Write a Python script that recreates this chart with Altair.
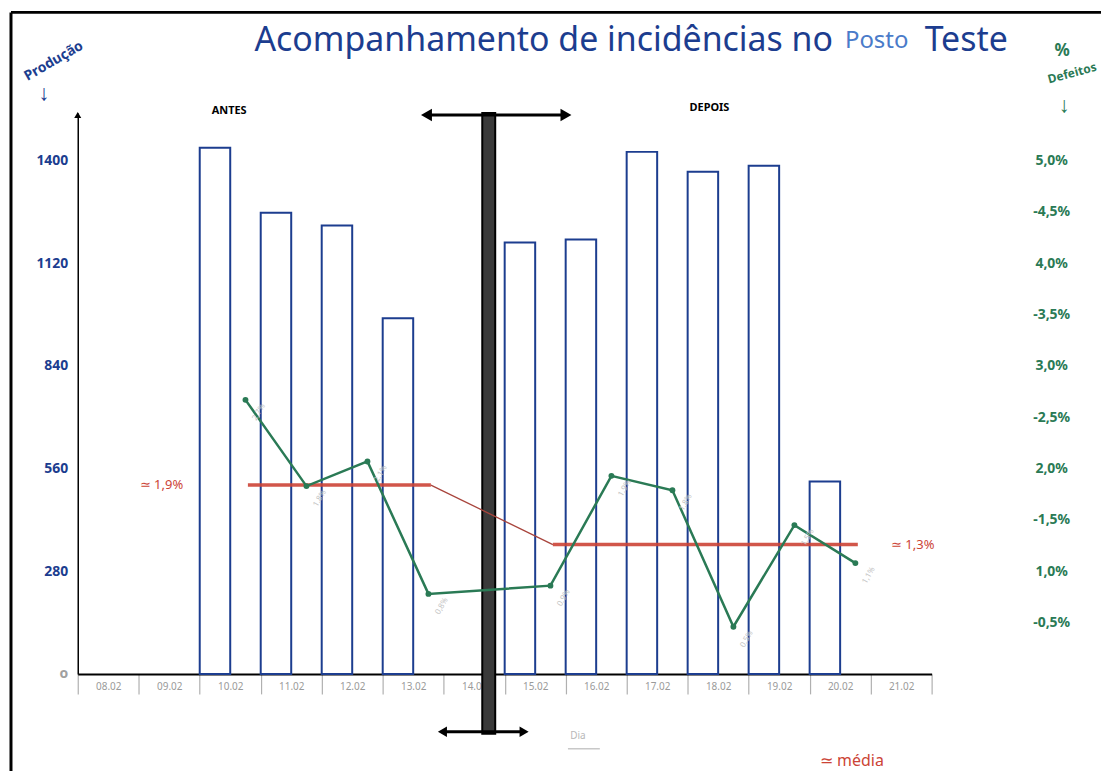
import altair as alt
import pandas as pd

# ---------------- data ----------------
dates = ["08.02", "09.02", "10.02", "11.02", "12.02", "13.02", "14.02",
         "15.02", "16.02", "17.02", "18.02", "19.02", "20.02", "21.02"]
bar_dates = ["10.02", "11.02", "12.02", "13.02", "15.02", "16.02",
             "17.02", "18.02", "19.02", "20.02"]
production = [1435, 1258, 1223, 970, 1177, 1185, 1424, 1370, 1386, 525]
defects_pct = [2.67, 1.83, 2.07, 0.78, 0.86, 1.93, 1.79, 0.46, 1.45, 1.08]
defect_labels = ["2,7%", "1,8%", "2,1%", "0,8%", "0,9%", "1,9%", "1,8%", "0,5%", "1,5%", "1,1%"]
mean_before = 1.84
mean_after = 1.26
mean_before_label = "≃ 1,9%"
mean_after_label = "≃ 1,3%"
prod_ticks = [0, 280, 560, 840, 1120, 1400]
pct_ticks = [0.5, 1.0, 1.5, 2.0, 2.5, 3.0, 3.5, 4.0, 4.5, 5.0]

# ---------------- layout / styles ----------------
W, H = 857, 563
OX, OY = 78, 112            # page position of plot origin
PROD_MAX = 1530
PCT_MAX = PROD_MAX / 280.0
NAVY = "#1c3d8f"
GREEN = "#2a7a55"
RED = "#cc4436"
STEP = W / len(dates)

def px(x):
    return x - OX

def py(y):
    return y - OY

xscale = alt.Scale(type="band", domain=dates, paddingInner=0, paddingOuter=0)
x_axis = alt.Axis(
    title=None, labelAngle=0, tickBand="extent", tickSize=20,
    tickColor="#b0b0b0", tickWidth=1.2, domainColor="black", domainWidth=2,
    labelColor="#9a9a9a", labelFontSize=10, labelPadding=-12,
    labelFont="Noto Sans")
left_axis = alt.Axis(
    title=None, orient="left", values=prod_ticks, format="d",
    ticks=False, domainColor="black", domainWidth=1.5,
    labelFontSize=14, labelFontWeight="bold",
    labelFont="Noto Sans", labelPadding=10,
    labelExpr="datum.value == 0 ? 'o' : datum.label",
    labelColor={"condition": {"test": "datum.value == 0", "value": "#a0a0a0"}, "value": NAVY})
right_axis = alt.Axis(
    title=None, orient="right", values=pct_ticks, domain=False, ticks=False,
    offset=100, labelPadding=20, labelAlign="center", labelColor=GREEN,
    labelFontSize=14, labelFontWeight="bold", labelFont="Noto Sans",
    labelExpr="(datum.value * 2) % 2 == 1 ? '-' + replace(format(datum.value, '.1f'), '.', ',') + '%' : replace(format(datum.value, '.1f'), '.', ',') + '%'")

bars_df = pd.DataFrame({"date": bar_dates, "prod": production})
line_df = pd.DataFrame({"date": bar_dates, "pct": defects_pct, "lab": defect_labels})
mean_df = pd.DataFrame({
    "date": ["10.02", "13.02", "15.02", "20.02"],
    "pct": [mean_before, mean_before, mean_after, mean_after],
    "seg": ["antes", "antes", "depois", "depois"],
})
conn_df = pd.DataFrame({"date": ["13.02", "15.02"], "pct": [mean_before, mean_after]})
mean_lab_df = pd.DataFrame({"pct": [mean_before, mean_after],
                            "lab": [mean_before_label, mean_after_label],
                            "px": [px(162), px(916)]})
one = pd.DataFrame({"a": [0]})

# ---------------- production layer ----------------
bars = alt.Chart(bars_df).mark_bar(
    fill="white", stroke=NAVY, strokeWidth=2,
    width=alt.RelativeBandSize(0.5), xOffset=-STEP / 4,
).encode(
    x=alt.X("date:O", scale=xscale, sort=dates, axis=x_axis),
    y=alt.Y("prod:Q", scale=alt.Scale(domain=[0, PROD_MAX], nice=False, zero=True), axis=left_axis),
)

def txt(text, x, y, color="black", size=12, weight="normal", angle=0, align="center", font="Noto Sans"):
    kw = dict(text=text, color=color, fontSize=size, fontWeight=weight, align=align,
              baseline="middle", font=font)
    if angle:
        kw["angle"] = angle
    return alt.Chart(one).mark_text(**kw).encode(x=alt.value(px(x)), y=alt.value(py(y)))

def rule(x1, y1, x2, y2, color="black", width=2):
    return alt.Chart(one).mark_rule(color=color, strokeWidth=width).encode(
        x=alt.value(px(x1)), x2=alt.value(px(x2)), y=alt.value(py(y1)), y2=alt.value(py(y2)))

def tri(shape, x, y, size=120, color="black"):
    return alt.Chart(one).mark_point(shape=shape, filled=True, color=color, size=size, opacity=1).encode(
        x=alt.value(px(x)), y=alt.value(py(y)))

annotations = [
    # frame
    rule(11, 11, 11, 780, width=3),
    rule(11, 11, 1109, 11, width=3),
    # title
    txt("Acompanhamento de incidências no", 836, 40, color=NAVY, size=34, align="right"),
    txt("Posto", 848, 40, color="#4a7bc9", size=24, align="left"),
    txt("Teste", 928, 40, color=NAVY, size=34, align="left"),
    # left axis title
    txt("Produção", 54, 60, color=NAVY, size=14, weight="bold", angle=330),
    txt("↓", 44, 92, color=NAVY, size=22, weight="bold"),
    # right axis title
    txt("%", 1066, 50, color=GREEN, size=17, weight="bold"),
    txt("Defeitos", 1076, 72, color=GREEN, size=12, weight="bold", angle=345),
    txt("↓", 1068, 104, color=GREEN, size=22, weight="bold"),
    # y axis arrow head
    tri("triangle-up", 78, 114, size=50),
    # section labels
    txt("ANTES", 230, 110, size=11, weight="bold"),
    txt("DEPOIS", 712, 107, size=11, weight="bold"),
    # divider
    alt.Chart(one).mark_rect(fill="#3a3a3a", stroke="black", strokeWidth=2).encode(
        x=alt.value(px(484)), x2=alt.value(px(497)), y=alt.value(py(112)), y2=alt.value(py(735))),
    rule(428, 114, 568, 114, width=3),
    tri("triangle-left", 428, 114, size=160),
    tri("triangle-right", 568, 114, size=160),
    rule(444, 733, 526, 733, width=3),
    tri("triangle-left", 444, 733, size=110),
    tri("triangle-right", 526, 733, size=110),
    # x axis title
    txt("Dia", 580, 737, color="#b8b8b8", size=10),
    rule(570, 750, 602, 750, color="#c8c8c8", width=1.5),
    # mean legend
    txt("≃ média", 855, 762, color=RED, size=16, align="center"),
]

prod_layer = alt.layer(bars, *annotations)

# ---------------- percentage layer ----------------
pct_scale = alt.Scale(domain=[0, PCT_MAX], nice=False, zero=True)
x_line = alt.X("date:O", scale=xscale, sort=dates, bandPosition=0.75, axis=x_axis)
x_mean = alt.X("date:O", scale=xscale, sort=dates, bandPosition=0.79, axis=x_axis)
y_pct = alt.Y("pct:Q", scale=pct_scale, axis=right_axis)

green = alt.Chart(line_df).mark_line(
    color=GREEN, strokeWidth=2.5,
    point=alt.OverlayMarkDef(filled=True, color=GREEN, size=35, opacity=1),
).encode(x=x_line, y=y_pct)

green_labels = alt.Chart(line_df).mark_text(
    color="#c4c4c4", fontSize=8, angle=300, dx=-4, dy=18, font="Noto Sans"
).encode(x=x_line, y=y_pct, text="lab:N")

mean_lines = alt.Chart(mean_df).mark_line(color=RED, strokeWidth=3.5, opacity=0.9).encode(
    x=x_mean, y=y_pct, detail="seg:N")

connector = alt.Chart(conn_df).mark_line(color="#a8443c", strokeWidth=1.3).encode(
    x=x_mean, y=y_pct)

mean_labels = alt.Chart(mean_lab_df).mark_text(
    color=RED, fontSize=13, font="Noto Sans", align="center", baseline="middle"
).encode(x=alt.X("px:Q", scale=None), y=y_pct, text="lab:N")

pct_layer = alt.layer(mean_lines, connector, green, green_labels, mean_labels)

chart = alt.layer(prod_layer, pct_layer).resolve_scale(y="independent").properties(
    width=W, height=H,
    padding={"left": 70, "top": 104, "right": 170, "bottom": 96},
    autosize=alt.AutoSizeParams(type="none"),
    background="white",
).configure_view(stroke=None).configure_axis(grid=False)

chart.save("out.html", embed_options={"renderer": "svg", "actions": False})
